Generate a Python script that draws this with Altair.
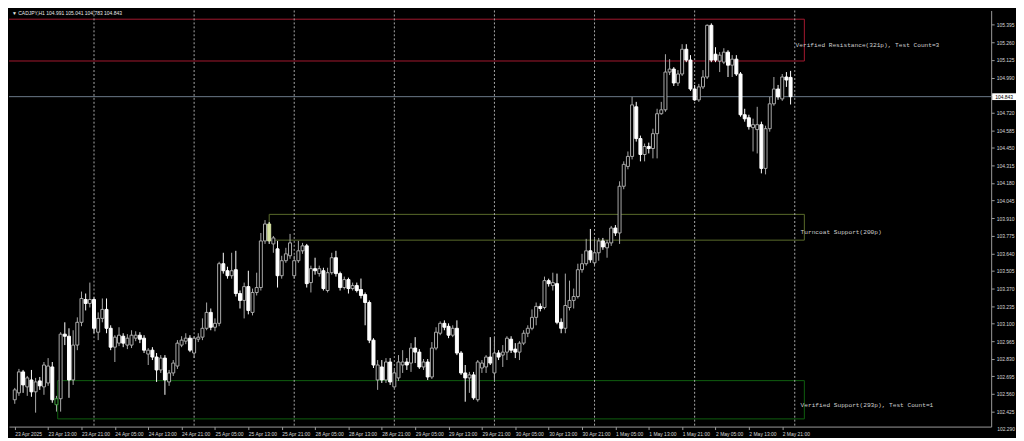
import altair as alt
import pandas as pd

# ---------------- data ----------------
symbol_title = "\u25bc  CADJPY,H1  104.991 105.041 104.783 104.843"

opens = [
    102.515, 102.568, 102.729, 102.614, 102.667, 102.576, 102.660, 102.614, 102.644, 102.767,
    102.477, 102.523, 103.019, 103.003, 102.667, 102.935, 103.110, 103.285, 103.255, 103.285,
    103.034, 103.140, 103.209, 103.064, 102.919, 102.950, 103.003, 102.935, 102.935, 102.988,
    103.011, 102.988, 102.866, 102.896, 102.843, 102.744, 102.835, 102.652, 102.721, 102.774,
    102.935, 102.965, 102.988, 102.874, 102.980, 102.996, 103.064, 103.186, 103.072, 103.102,
    103.560, 103.506, 103.468, 103.514, 103.331, 103.278, 103.384, 103.186, 103.339, 103.377,
    103.735, 103.865, 103.712, 103.674, 103.468, 103.583, 103.621, 103.468, 103.583, 103.659,
    103.697, 103.415, 103.522, 103.484, 103.506, 103.354, 103.491, 103.606, 103.484, 103.377,
    103.438, 103.369, 103.392, 103.362, 103.323, 103.262, 102.973, 102.667, 102.767, 102.667,
    102.805, 102.614, 102.683, 102.782, 102.805, 102.797, 102.912, 102.881, 102.767, 102.805,
    102.690, 102.912, 103.026, 103.102, 103.079, 103.011, 103.064, 102.874, 102.721, 102.683,
    102.706, 102.515, 102.759, 102.767, 102.843, 102.721, 102.874, 102.858, 102.881, 102.980,
    102.904, 102.881, 102.950, 103.026, 103.064, 103.148, 103.232, 103.224, 103.430, 103.392,
    103.407, 103.110, 103.064, 103.224, 103.278, 103.308, 103.514, 103.560, 103.659, 103.567,
    103.644, 103.735, 103.682, 103.720, 103.834, 103.796, 104.155, 104.307, 104.384, 104.765,
    104.521, 104.399, 104.460, 104.445, 104.559, 104.712, 104.742, 105.032, 105.055, 104.948,
    105.017, 105.207, 105.124, 104.902, 104.818, 104.918, 104.994, 105.391, 105.169, 105.116,
    105.108, 105.185, 105.085, 105.131, 105.017, 104.704, 104.681, 104.605, 104.590, 104.628,
    104.292, 104.597, 104.788, 104.902, 104.826, 104.994, 104.991,
]
highs = [
    102.606, 102.752, 102.744, 102.698, 102.744, 102.683, 102.690, 102.805, 102.835, 102.805,
    102.545, 103.034, 103.110, 103.064, 103.049, 103.148, 103.346, 103.331, 103.415, 103.301,
    103.186, 103.293, 103.293, 103.087, 103.011, 103.072, 103.026, 103.019, 103.049, 103.041,
    103.034, 103.011, 102.912, 102.919, 102.874, 102.858, 102.858, 102.744, 102.820, 102.973,
    103.003, 103.026, 103.011, 103.003, 103.026, 103.140, 103.262, 103.216, 103.140, 103.575,
    103.644, 103.537, 103.644, 103.659, 103.354, 103.415, 103.506, 103.369, 103.491, 103.796,
    103.895, 103.880, 103.773, 103.735, 103.621, 103.682, 103.789, 103.621, 103.735, 103.720,
    103.712, 103.545, 103.606, 103.545, 103.529, 103.529, 103.644, 103.659, 103.499, 103.461,
    103.453, 103.415, 103.415, 103.446, 103.339, 103.278, 102.988, 102.820, 102.820, 102.835,
    102.835, 102.744, 102.858, 102.896, 102.835, 102.950, 102.996, 102.904, 102.828, 102.828,
    102.958, 103.072, 103.117, 103.125, 103.102, 103.087, 103.125, 102.889, 102.782, 102.729,
    102.729, 102.820, 102.820, 102.858, 102.996, 102.996, 102.896, 102.935, 103.003, 103.003,
    102.950, 102.965, 103.049, 103.087, 103.209, 103.262, 103.255, 103.461, 103.445, 103.491,
    103.484, 103.140, 103.484, 103.430, 103.369, 103.560, 103.636, 103.751, 103.827, 103.751,
    103.758, 103.758, 103.743, 103.850, 103.857, 104.193, 104.346, 104.422, 104.841, 104.803,
    104.544, 104.483, 104.490, 104.597, 104.750, 104.803, 105.169, 105.131, 105.070, 105.047,
    105.246, 105.246, 105.162, 104.933, 104.941, 105.047, 105.398, 105.406, 105.223, 105.185,
    105.215, 105.200, 105.162, 105.162, 105.032, 104.750, 104.704, 104.674, 104.765, 104.651,
    104.620, 104.841, 104.994, 104.933, 105.017, 105.032, 105.041,
]
lows = [
    102.484, 102.545, 102.568, 102.545, 102.538, 102.416, 102.591, 102.553, 102.622, 102.492,
    102.424, 102.424, 102.935, 102.530, 102.629, 102.896, 103.080, 103.201, 103.224, 103.026,
    102.973, 103.110, 103.026, 102.896, 102.805, 102.927, 102.919, 102.904, 102.912, 102.965,
    102.950, 102.874, 102.782, 102.820, 102.652, 102.721, 102.553, 102.622, 102.698, 102.752,
    102.919, 102.942, 102.881, 102.835, 102.958, 102.973, 103.049, 103.049, 103.041, 103.080,
    103.484, 103.445, 103.445, 103.308, 103.216, 103.140, 103.171, 103.163, 103.316, 103.354,
    103.712, 103.712, 103.644, 103.377, 103.445, 103.567, 103.598, 103.445, 103.567, 103.636,
    103.377, 103.339, 103.476, 103.461, 103.354, 103.339, 103.476, 103.461, 103.354, 103.362,
    103.331, 103.354, 103.339, 103.293, 103.087, 102.950, 102.759, 102.591, 102.644, 102.644,
    102.629, 102.606, 102.660, 102.721, 102.744, 102.729, 102.797, 102.752, 102.744, 102.667,
    102.675, 102.896, 103.011, 103.049, 102.988, 102.996, 102.858, 102.706, 102.500, 102.568,
    102.515, 102.500, 102.721, 102.721, 102.782, 102.667, 102.820, 102.767, 102.820, 102.874,
    102.835, 102.820, 102.935, 102.996, 103.049, 103.087, 103.194, 103.209, 103.384, 103.354,
    103.095, 103.026, 103.026, 103.201, 103.216, 103.293, 103.491, 103.545, 103.567, 103.545,
    103.583, 103.667, 103.606, 103.697, 103.773, 103.712, 104.132, 104.285, 104.361, 104.498,
    104.346, 104.346, 104.407, 104.369, 104.369, 104.704, 104.727, 105.009, 104.925, 104.925,
    105.002, 105.108, 104.887, 104.811, 104.803, 104.902, 104.979, 105.108, 105.108, 105.032,
    105.093, 104.994, 104.994, 105.002, 104.689, 104.651, 104.590, 104.422, 104.407, 104.254,
    104.246, 104.574, 104.773, 104.819, 104.811, 104.918, 104.783,
]
closes = [
    102.591, 102.729, 102.629, 102.683, 102.576, 102.652, 102.622, 102.782, 102.774, 102.515,
    102.523, 103.019, 103.003, 102.667, 102.935, 103.110, 103.293, 103.255, 103.285, 103.064,
    103.140, 103.209, 103.064, 102.919, 102.996, 103.011, 102.950, 102.988, 103.011, 103.011,
    102.980, 102.896, 102.896, 102.843, 102.744, 102.835, 102.667, 102.721, 102.797, 102.950,
    102.973, 102.988, 102.896, 102.988, 102.996, 103.064, 103.186, 103.072, 103.102, 103.560,
    103.506, 103.468, 103.506, 103.331, 103.278, 103.384, 103.201, 103.339, 103.377, 103.735,
    103.865, 103.735, 103.758, 103.468, 103.583, 103.636, 103.720, 103.583, 103.659, 103.697,
    103.407, 103.522, 103.506, 103.522, 103.369, 103.491, 103.606, 103.484, 103.377, 103.438,
    103.369, 103.392, 103.354, 103.316, 103.262, 102.973, 102.782, 102.782, 102.667, 102.805,
    102.652, 102.721, 102.805, 102.805, 102.782, 102.912, 102.881, 102.767, 102.805, 102.690,
    102.912, 103.034, 103.102, 103.072, 103.011, 103.064, 102.874, 102.721, 102.683, 102.706,
    102.530, 102.805, 102.797, 102.843, 102.797, 102.874, 102.843, 102.881, 102.988, 102.896,
    102.881, 102.950, 103.026, 103.064, 103.148, 103.232, 103.216, 103.430, 103.407, 103.415,
    103.110, 103.064, 103.239, 103.278, 103.308, 103.514, 103.560, 103.659, 103.590, 103.644,
    103.735, 103.689, 103.720, 103.834, 103.796, 104.155, 104.323, 104.384, 104.780, 104.521,
    104.399, 104.460, 104.445, 104.559, 104.712, 104.742, 105.032, 105.055, 104.948, 105.017,
    105.207, 105.124, 104.902, 104.818, 104.918, 104.994, 105.391, 105.124, 105.124, 105.162,
    105.185, 105.085, 105.131, 105.017, 104.704, 104.673, 104.613, 104.628, 104.628, 104.292,
    104.597, 104.788, 104.902, 104.841, 104.994, 104.971, 104.843,
]

time_labels = [
    "23 Apr 2025", "23 Apr 13:00", "23 Apr 21:00", "24 Apr 05:00", "24 Apr 13:00",
    "24 Apr 21:00", "25 Apr 05:00", "25 Apr 13:00", "25 Apr 21:00", "28 Apr 05:00",
    "28 Apr 13:00", "28 Apr 21:00", "29 Apr 05:00", "29 Apr 13:00", "29 Apr 21:00",
    "30 Apr 05:00", "30 Apr 13:00", "30 Apr 21:00", "1 May 05:00", "1 May 13:00",
    "1 May 21:00", "2 May 05:00", "2 May 13:00", "2 May 21:00",
]
bars_per_label = 8
price_ticks = [
    105.530, 105.395, 105.260, 105.125, 104.990, 104.855, 104.720, 104.585, 104.450,
    104.315, 104.180, 104.045, 103.910, 103.775, 103.640, 103.505, 103.370, 103.235,
    103.100, 102.965, 102.830, 102.695, 102.560, 102.425, 102.290,
]
day_starts = [19, 43, 67, 91, 115, 139, 163, 187]
current_price = 104.843

zone_names = [
    "Verified Resistance(321p), Test Count=3",
    "Turncoat Support(200p)",
    "Verified Support(293p), Test Count=1",
]
zone_start = [-3.0, 61.0, 10.3]
zone_end = [189.3, 189.3, 189.3]
zone_high = [105.438, 103.939, 102.662]
zone_low = [105.117, 103.741, 102.368]
zone_label_x = [187.2, 188.4, 188.4]
zone_label_price = [105.243, 103.804, 102.477]
zone_colors = ["#a3192f", "#5a6b2a", "#0f5f0f"]

# candles that started a zone are tinted (fill, outline)
highlight_bars = {10: ("#000000", "#3f9f3f"), 61: ("#d6e2a2", "#d6e2a2")}

x_domain = [-0.19, 232.9]
y_domain = [102.309, 105.505]
W, H = 989, 419

UP_LINE = "#a9a9a9"
DOWN_FILL = "#ffffff"
AXIS_GRAY = "#9a9a9a"
TEXT_GRAY = "#d8d8d8"

# ---------------- tables ----------------
df = pd.DataFrame({"i": range(len(opens)), "o": opens, "h": highs, "l": lows, "c": closes})
bull = df["c"] >= df["o"]
df["fill"] = ["#000000" if b else DOWN_FILL for b in bull]
df["line"] = [UP_LINE if b else DOWN_FILL for b in bull]
df["wick"] = df["line"]
for k, (f, s) in highlight_bars.items():
    df.loc[k, "fill"] = f
    df.loc[k, "line"] = s

zones = pd.DataFrame({
    "name": zone_names, "x0": zone_start, "x1": zone_end,
    "hi": zone_high, "lo": zone_low, "col": zone_colors,
    "lx": zone_label_x, "lp": zone_label_price,
})
seps = pd.DataFrame({"i": day_starts})
cur = pd.DataFrame({"p": [current_price], "txt": [f"{current_price:.3f}"]})

labels_js = "[" + ",".join(f"'{t}'" for t in time_labels) + "]"
x_axis = alt.Axis(
    values=[k * bars_per_label for k in range(len(time_labels))],
    labelExpr=f"{labels_js}[round(datum.value/{bars_per_label})]",
    labelAlign="left", labelBaseline="top", labelPadding=2, labelFlush=False,
    labelOverlap=False, labelBound=False, tickSize=3, grid=False, title=None,
    labelFont="Liberation Sans", labelFontSize=5, labelColor=TEXT_GRAY,
    domainColor=AXIS_GRAY, tickColor=AXIS_GRAY,
)
y_axis = alt.Axis(
    orient="right",
    values=[v for v in price_ticks if y_domain[0] <= v <= y_domain[1]],
    format=".3f", tickSize=3, labelPadding=2, labelFlush=False, labelOverlap=False,
    grid=False, title=None, labelFont="Liberation Sans", labelFontSize=5,
    labelColor=TEXT_GRAY, domainColor=AXIS_GRAY, tickColor=AXIS_GRAY,
)
xs = alt.Scale(domain=x_domain, nice=False, zero=False)
ys = alt.Scale(domain=y_domain, nice=False, zero=False)


def X(f):
    return alt.X(f"{f}:Q", scale=xs, axis=x_axis, title=None)


def Y(f):
    return alt.Y(f"{f}:Q", scale=ys, axis=y_axis, title=None)


zone_rects = alt.Chart(zones).mark_rect(filled=False, strokeWidth=1, clip=True).encode(
    x=X("x0"), x2="x1", y=Y("hi"), y2="lo", stroke=alt.Stroke("col:N", scale=None)
)
separators = alt.Chart(seps).mark_rule(strokeDash=[2, 2], color="#a8a8a8", strokeWidth=1).encode(
    x=X("i")
)
price_line = alt.Chart(cur).mark_rule(color="#6c7a8a", strokeWidth=1).encode(y=Y("p"))
wicks = alt.Chart(df).mark_rule(strokeWidth=1, clip=True).encode(
    x=X("i"), y=Y("l"), y2="h", color=alt.Color("wick:N", scale=None)
)
bodies = alt.Chart(df).mark_bar(size=3, strokeWidth=1, clip=True).encode(
    x=X("i"), y=Y("o"), y2="c",
    fill=alt.Fill("fill:N", scale=None), stroke=alt.Stroke("line:N", scale=None),
)
zone_text = alt.Chart(zones).mark_text(
    align="left", baseline="middle", font="Liberation Mono", fontSize=6.2, color="#cfcfcf"
).encode(x=X("lx"), y=Y("lp"), text="name:N")
title_text = alt.Chart(alt.Data(values=[{"t": symbol_title}])).mark_text(
    align="left", baseline="middle", font="Liberation Sans", fontSize=5, color="#e8e8e8"
).encode(x=alt.value(3), y=alt.value(3), text="t:N")
price_box = alt.Chart(cur).transform_calculate(
    top="datum.p + 0.026", bot="datum.p - 0.026"
).mark_rect(color="#ffffff").encode(
    x=alt.value(W + 1), x2=alt.value(W + 25), y=Y("top"), y2="bot"
)
price_box_text = alt.Chart(cur).mark_text(
    align="center", baseline="middle", font="Liberation Sans", fontSize=5, color="#000000"
).encode(x=alt.value(W + 13), y=Y("p"), text="txt:N")
bottom_price = alt.Chart(alt.Data(values=[{"t": f"{price_ticks[-1]:.3f}"}])).mark_text(
    align="left", baseline="middle", font="Liberation Sans", fontSize=5, color=TEXT_GRAY
).encode(x=alt.value(W + 6), y=alt.value(H + 2), text="t:N")

chart = alt.layer(
    zone_rects, separators, price_line, wicks, bodies, zone_text, title_text,
    price_box, price_box_text, bottom_price,
).properties(
    width=W, height=H, padding={"left": 0, "top": 0, "right": 0, "bottom": 0}
).configure(background="#000000").configure_view(stroke=None)

chart.save("out.html", embed_options={"renderer": "svg", "actions": False})
